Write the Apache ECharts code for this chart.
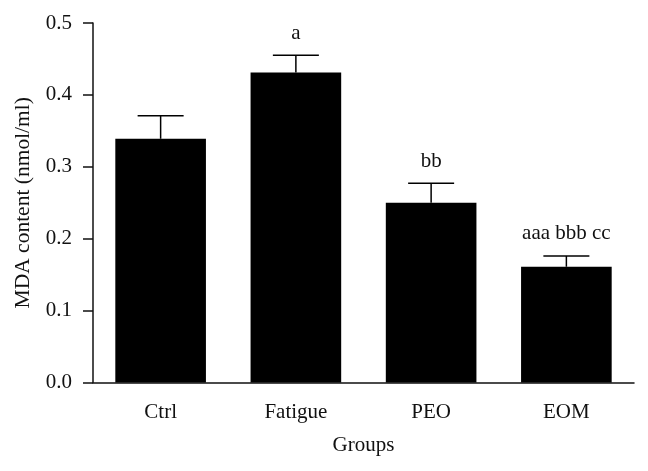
<!DOCTYPE html>
<html>
<head>
<meta charset="utf-8">
<script src="https://cdn.jsdelivr.net/npm/echarts@6/dist/echarts.min.js"></script>
<style>
html,body{margin:0;padding:0;background:#fff;}
#chart{width:648px;height:471px;}
</style>
</head>
<body>
<div id="chart"></div>
<script>
var categories = ['Ctrl', 'Fatigue', 'PEO', 'EOM'];
var means = [0.339, 0.431, 0.250, 0.161];
var errors = [0.032, 0.024, 0.027, 0.015];
var sigLabels = ['', 'a', 'bb', 'aaa bbb cc'];
var yTicks = [0, 0.1, 0.2, 0.3, 0.4, 0.5];

var FONT = "'Liberation Serif', 'DejaVu Serif', serif";
var chart = echarts.init(document.getElementById('chart'), null, {renderer: 'canvas'});

var errData = categories.map(function (c, i) { return [i, means[i], errors[i], sigLabels[i]]; });

chart.setOption({
  animation: false,
  backgroundColor: '#fff',
  grid: {left: 93, right: 14, top: 23, bottom: 88.5},
  xAxis: {
    type: 'category',
    data: categories,
    name: 'Groups',
    nameLocation: 'middle',
    nameGap: 52,
    nameTextStyle: {fontFamily: FONT, fontSize: 21, color: '#111'},
    axisLine: {lineStyle: {color: '#111', width: 1.5}},
    axisTick: {alignWithLabel: true, length: 11, lineStyle: {color: '#111', width: 1.5}},
    axisLabel: {fontFamily: FONT, fontSize: 21, color: '#111', margin: 19},
    splitLine: {show: false}
  },
  yAxis: {
    type: 'value',
    min: 0,
    max: 0.5,
    interval: 0.1,
    name: 'MDA content (nmol/ml)',
    nameLocation: 'middle',
    nameGap: 57,
    nameRotate: 90,
    nameTextStyle: {fontFamily: FONT, fontSize: 21.5, color: '#111'},
    axisLine: {show: true, lineStyle: {color: '#111', width: 1.5}},
    axisTick: {show: true, length: 10, lineStyle: {color: '#111', width: 1.5}},
    axisLabel: {
      fontFamily: FONT, fontSize: 21, color: '#111', margin: 21,
      formatter: function (v) { return v.toFixed(1); }
    },
    splitLine: {show: false}
  },
  series: [
    {
      type: 'bar',
      data: means,
      barWidth: '67%',
      itemStyle: {color: '#000'},
      z: 2
    },
    {
      type: 'custom',
      data: errData,
      z: 3,
      renderItem: function (params, api) {
        var idx = api.value(0);
        var m = api.value(1);
        var e = api.value(2);
        var lbl = sigLabels[params.dataIndex];
        var base = api.coord([idx, m]);
        var top = api.coord([idx, m + e]);
        var hw = 23;
        var style = {stroke: '#000', lineWidth: 1.5};
        var children = [
          {type: 'line', shape: {x1: base[0], y1: base[1], x2: top[0], y2: top[1]}, style: style},
          {type: 'line', shape: {x1: top[0] - hw, y1: top[1], x2: top[0] + hw, y2: top[1]}, style: style}
        ];
        if (lbl) {
          children.push({
            type: 'text',
            x: top[0], y: top[1] - 22,
            style: {text: lbl, fontFamily: FONT, fontSize: 21, fill: '#111', align: 'center', verticalAlign: 'middle'}
          });
        }
        return {type: 'group', children: children};
      }
    }
  ]
});
</script>
</body>
</html>
